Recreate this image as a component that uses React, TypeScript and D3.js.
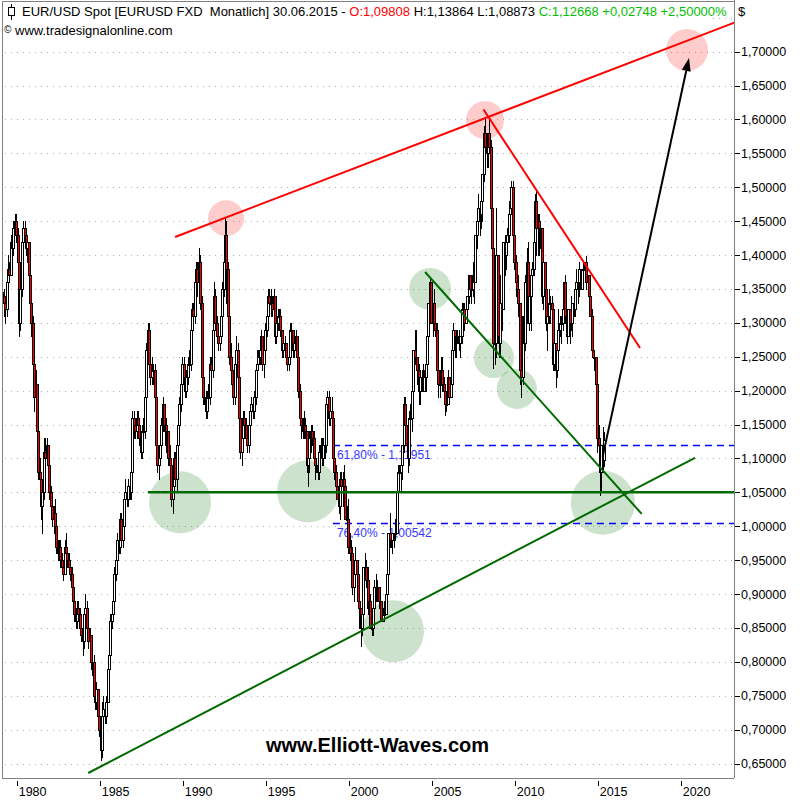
import * as d3 from 'd3'

const W = 800, H = 800
const P = { left: 2, right: 734, top: 1, bottom: 778 }
const FONT = 'Liberation Sans, Arial, sans-serif'

// monthly bars start March 1979; open of the first bar
const START_YEAR = 1979, START_MONTH = 2
const FIRST_OPEN = 1.345

const closes = [
  1.34, 1.33, 1.32, 1.36, 1.38, 1.37, 1.42, 1.41, 1.44, 1.45, // 1979 Mar-Dec
  1.43, 1.39, 1.30, 1.35, 1.42, 1.44, 1.43, 1.41, 1.42, 1.37, 1.33, 1.30, // 1980
  1.24, 1.19, 1.21, 1.14, 1.08, 1.07, 1.03, 1.05, 1.11, 1.10, 1.12, 1.09, // 1981
  1.05, 1.03, 1.01, 1.02, 1.00, 0.97, 0.96, 0.97, 0.95, 0.94, 0.93, 0.97, // 1982
  0.96, 0.95, 0.94, 0.93, 0.91, 0.89, 0.87, 0.86, 0.88, 0.87, 0.85, 0.84, // 1983
  0.83, 0.87, 0.88, 0.85, 0.83, 0.84, 0.80, 0.80, 0.75, 0.74, 0.76, 0.72, // 1984
  0.70, 0.67, 0.72, 0.73, 0.72, 0.74, 0.79, 0.81, 0.86, 0.87, 0.89, 0.93, // 1985
  0.95, 0.98, 0.97, 1.01, 0.98, 1.00, 1.04, 1.05, 1.04, 1.06, 1.05, 1.08, // 1986
  1.16, 1.15, 1.14, 1.16, 1.15, 1.13, 1.11, 1.14, 1.14, 1.19, 1.26, 1.29, // 1987
  1.24, 1.22, 1.23, 1.23, 1.19, 1.12, 1.09, 1.10, 1.12, 1.15, 1.18, 1.15, // 1988
  1.12, 1.14, 1.10, 1.09, 1.04, 1.06, 1.10, 1.07, 1.12, 1.15, 1.18, 1.21, // 1989
  1.24, 1.22, 1.20, 1.22, 1.24, 1.24, 1.29, 1.32, 1.31, 1.36, 1.38, 1.36, // 1990
  1.39, 1.33, 1.22, 1.19, 1.19, 1.17, 1.19, 1.19, 1.24, 1.23, 1.29, 1.34, // 1991
  1.30, 1.28, 1.27, 1.28, 1.31, 1.35, 1.39, 1.43, 1.38, 1.31, 1.25, 1.23, // 1992
  1.21, 1.19, 1.24, 1.26, 1.22, 1.16, 1.11, 1.13, 1.16, 1.15, 1.13, 1.12, // 1993
  1.15, 1.17, 1.18, 1.17, 1.19, 1.23, 1.24, 1.25, 1.26, 1.28, 1.24, 1.26, // 1994
  1.29, 1.31, 1.34, 1.33, 1.33, 1.32, 1.34, 1.28, 1.30, 1.31, 1.31, 1.29, // 1995
  1.26, 1.27, 1.27, 1.25, 1.24, 1.25, 1.29, 1.29, 1.26, 1.27, 1.28, 1.25, // 1996
  1.20, 1.16, 1.15, 1.14, 1.15, 1.14, 1.09, 1.10, 1.13, 1.14, 1.13, 1.10, // 1997
  1.09, 1.09, 1.08, 1.11, 1.12, 1.10, 1.12, 1.12, 1.18, 1.19, 1.16, 1.17, // 1998
  1.16, 1.10, 1.08, 1.06, 1.04, 1.03, 1.07, 1.06, 1.07, 1.06, 1.01, 1.01, // 1999
  0.97, 0.96, 0.96, 0.91, 0.93, 0.95, 0.93, 0.89, 0.88, 0.85, 0.87, 0.94, // 2000
  0.94, 0.92, 0.88, 0.89, 0.85, 0.85, 0.88, 0.91, 0.91, 0.91, 0.89, 0.89, // 2001
  0.86, 0.87, 0.87, 0.90, 0.93, 0.99, 0.98, 0.98, 0.99, 0.99, 0.99, 1.05, // 2002
  1.08, 1.08, 1.09, 1.12, 1.18, 1.15, 1.12, 1.10, 1.16, 1.16, 1.20, 1.26, // 2003
  1.25, 1.25, 1.23, 1.20, 1.22, 1.22, 1.20, 1.22, 1.24, 1.28, 1.33, 1.36, // 2004
  1.30, 1.33, 1.30, 1.29, 1.23, 1.21, 1.21, 1.23, 1.21, 1.20, 1.18, 1.18, // 2005
  1.22, 1.19, 1.21, 1.26, 1.29, 1.28, 1.28, 1.28, 1.27, 1.28, 1.32, 1.32, // 2006
  1.30, 1.32, 1.34, 1.37, 1.35, 1.35, 1.37, 1.36, 1.43, 1.45, 1.47, 1.46, // 2007
  1.48, 1.52, 1.58, 1.56, 1.55, 1.58, 1.56, 1.47, 1.41, 1.27, 1.27, 1.40, // 2008
  1.28, 1.27, 1.33, 1.32, 1.42, 1.40, 1.42, 1.43, 1.46, 1.47, 1.50, 1.43, // 2009
  1.39, 1.36, 1.35, 1.33, 1.23, 1.22, 1.31, 1.27, 1.36, 1.39, 1.30, 1.34, // 2010
  1.37, 1.38, 1.42, 1.48, 1.44, 1.45, 1.44, 1.44, 1.34, 1.39, 1.35, 1.30, // 2011
  1.31, 1.33, 1.33, 1.32, 1.24, 1.27, 1.23, 1.26, 1.29, 1.30, 1.30, 1.32, // 2012
  1.36, 1.31, 1.28, 1.32, 1.30, 1.30, 1.33, 1.32, 1.35, 1.36, 1.36, 1.38, // 2013
  1.35, 1.38, 1.38, 1.39, 1.36, 1.37, 1.34, 1.31, 1.26, 1.25, 1.25, 1.21, // 2014
  1.13, 1.12, 1.08, 1.12, 1.098, 1.1267, // 2015 Jan-Jun
]

const highs = [
  1.36, 1.35, 1.34, 1.37, 1.40, 1.39, 1.43, 1.44, 1.45, 1.46,
  1.46, 1.44, 1.40, 1.36, 1.43, 1.45, 1.45, 1.44, 1.43, 1.42, 1.38, 1.34,
  1.31, 1.25, 1.23, 1.21, 1.15, 1.10, 1.08, 1.06, 1.13, 1.13, 1.13, 1.12,
  1.09, 1.06, 1.04, 1.03, 1.04, 1.01, 0.98, 0.98, 0.98, 0.96, 0.95, 0.98,
  0.99, 0.97, 0.96, 0.95, 0.94, 0.92, 0.90, 0.88, 0.89, 0.89, 0.88, 0.86,
  0.85, 0.88, 0.90, 0.89, 0.86, 0.85, 0.84, 0.81, 0.81, 0.77, 0.77, 0.76,
  0.73, 0.71, 0.74, 0.75, 0.74, 0.75, 0.80, 0.82, 0.87, 0.89, 0.90, 0.94,
  0.96, 0.99, 1.00, 1.02, 1.02, 1.01, 1.05, 1.07, 1.06, 1.07, 1.07, 1.09,
  1.17, 1.17, 1.16, 1.17, 1.17, 1.16, 1.14, 1.15, 1.16, 1.20, 1.27, 1.30,
  1.30, 1.25, 1.25, 1.24, 1.24, 1.20, 1.13, 1.11, 1.13, 1.16, 1.19, 1.18,
  1.16, 1.15, 1.14, 1.12, 1.10, 1.08, 1.11, 1.11, 1.13, 1.16, 1.19, 1.22,
  1.25, 1.25, 1.23, 1.23, 1.25, 1.26, 1.30, 1.33, 1.33, 1.37, 1.39, 1.39,
  1.41, 1.40, 1.34, 1.23, 1.21, 1.20, 1.20, 1.21, 1.25, 1.25, 1.30, 1.36,
  1.35, 1.31, 1.29, 1.29, 1.32, 1.36, 1.40, 1.455, 1.45, 1.39, 1.32, 1.27,
  1.25, 1.23, 1.26, 1.28, 1.27, 1.23, 1.17, 1.14, 1.17, 1.17, 1.16, 1.14,
  1.16, 1.18, 1.19, 1.19, 1.20, 1.24, 1.26, 1.26, 1.28, 1.29, 1.28, 1.27,
  1.30, 1.32, 1.35, 1.35, 1.35, 1.34, 1.35, 1.34, 1.31, 1.32, 1.32, 1.32,
  1.29, 1.28, 1.28, 1.27, 1.26, 1.26, 1.30, 1.30, 1.29, 1.28, 1.29, 1.28,
  1.25, 1.21, 1.17, 1.16, 1.17, 1.16, 1.14, 1.11, 1.14, 1.15, 1.15, 1.14,
  1.11, 1.10, 1.10, 1.12, 1.13, 1.13, 1.13, 1.14, 1.19, 1.20, 1.20, 1.18,
  1.19, 1.16, 1.10, 1.09, 1.07, 1.05, 1.08, 1.08, 1.08, 1.09, 1.07, 1.03,
  1.04, 0.99, 0.98, 0.97, 0.94, 0.97, 0.95, 0.93, 0.90, 0.88, 0.87, 0.94,
  0.96, 0.95, 0.94, 0.91, 0.90, 0.87, 0.88, 0.92, 0.93, 0.92, 0.91, 0.90,
  0.89, 0.88, 0.89, 0.90, 0.94, 0.99, 1.02, 0.99, 0.99, 0.99, 1.01, 1.05,
  1.09, 1.09, 1.11, 1.12, 1.19, 1.19, 1.16, 1.14, 1.17, 1.18, 1.20, 1.26,
  1.29, 1.29, 1.25, 1.24, 1.23, 1.23, 1.24, 1.23, 1.24, 1.28, 1.33, 1.367,
  1.36, 1.33, 1.35, 1.31, 1.30, 1.24, 1.22, 1.25, 1.25, 1.22, 1.21, 1.20,
  1.23, 1.22, 1.23, 1.27, 1.30, 1.29, 1.29, 1.29, 1.29, 1.28, 1.33, 1.33,
  1.33, 1.33, 1.34, 1.37, 1.37, 1.35, 1.39, 1.38, 1.43, 1.45, 1.49, 1.48,
  1.49, 1.52, 1.59, 1.60, 1.58, 1.58, 1.604, 1.57, 1.48, 1.42, 1.30, 1.47,
  1.40, 1.31, 1.37, 1.35, 1.42, 1.43, 1.43, 1.44, 1.48, 1.50, 1.51, 1.51,
  1.45, 1.40, 1.37, 1.37, 1.33, 1.24, 1.31, 1.33, 1.37, 1.41, 1.42, 1.34,
  1.38, 1.39, 1.43, 1.49, 1.494, 1.46, 1.46, 1.45, 1.44, 1.42, 1.39, 1.35,
  1.32, 1.35, 1.34, 1.34, 1.33, 1.27, 1.27, 1.26, 1.32, 1.31, 1.31, 1.33,
  1.36, 1.37, 1.32, 1.32, 1.32, 1.34, 1.33, 1.35, 1.36, 1.38, 1.36, 1.39,
  1.38, 1.38, 1.39, 1.39, 1.399, 1.37, 1.37, 1.34, 1.32, 1.28, 1.26, 1.25,
  1.21, 1.15, 1.13, 1.12, 1.147, 1.1386,
]

const lows = [
  1.32, 1.31, 1.30, 1.31, 1.35, 1.36, 1.37, 1.39, 1.40, 1.43,
  1.42, 1.38, 1.28, 1.29, 1.34, 1.41, 1.42, 1.40, 1.39, 1.36, 1.31, 1.28,
  1.23, 1.17, 1.17, 1.13, 1.07, 1.05, 1.01, 0.99, 1.04, 1.08, 1.09, 1.08,
  1.04, 1.02, 1.00, 0.99, 0.99, 0.96, 0.95, 0.95, 0.94, 0.93, 0.92, 0.93,
  0.95, 0.94, 0.93, 0.92, 0.90, 0.88, 0.86, 0.85, 0.85, 0.86, 0.84, 0.83,
  0.81, 0.82, 0.86, 0.84, 0.82, 0.82, 0.79, 0.78, 0.74, 0.73, 0.73, 0.71,
  0.69, 0.655, 0.66, 0.71, 0.71, 0.71, 0.74, 0.78, 0.79, 0.85, 0.86, 0.88,
  0.92, 0.94, 0.96, 0.96, 0.97, 0.97, 0.99, 1.03, 1.03, 1.03, 1.04, 1.04,
  1.08, 1.13, 1.13, 1.13, 1.14, 1.12, 1.10, 1.10, 1.13, 1.13, 1.18, 1.25,
  1.23, 1.21, 1.21, 1.21, 1.18, 1.11, 1.08, 1.07, 1.09, 1.11, 1.14, 1.14,
  1.11, 1.11, 1.09, 1.08, 1.03, 1.02, 1.05, 1.06, 1.05, 1.11, 1.14, 1.17,
  1.20, 1.21, 1.19, 1.19, 1.21, 1.22, 1.23, 1.28, 1.30, 1.30, 1.35, 1.34,
  1.35, 1.32, 1.21, 1.18, 1.18, 1.16, 1.16, 1.17, 1.18, 1.21, 1.22, 1.28,
  1.29, 1.27, 1.26, 1.26, 1.27, 1.30, 1.34, 1.38, 1.33, 1.30, 1.24, 1.22,
  1.20, 1.18, 1.18, 1.23, 1.21, 1.15, 1.10, 1.09, 1.12, 1.13, 1.12, 1.11,
  1.11, 1.14, 1.16, 1.16, 1.16, 1.18, 1.22, 1.23, 1.24, 1.25, 1.23, 1.22,
  1.25, 1.28, 1.30, 1.32, 1.31, 1.31, 1.31, 1.27, 1.27, 1.29, 1.29, 1.28,
  1.25, 1.25, 1.25, 1.24, 1.23, 1.23, 1.24, 1.27, 1.25, 1.25, 1.26, 1.24,
  1.19, 1.15, 1.13, 1.13, 1.13, 1.13, 1.08, 1.06, 1.08, 1.11, 1.12, 1.09,
  1.07, 1.08, 1.07, 1.07, 1.10, 1.09, 1.09, 1.10, 1.11, 1.16, 1.15, 1.15,
  1.13, 1.09, 1.07, 1.05, 1.04, 1.02, 1.01, 1.04, 1.03, 1.05, 1.01, 1.00,
  0.96, 0.95, 0.95, 0.90, 0.89, 0.92, 0.92, 0.88, 0.85, 0.823, 0.84, 0.86,
  0.92, 0.91, 0.87, 0.87, 0.85, 0.84, 0.84, 0.87, 0.89, 0.89, 0.88, 0.88,
  0.86, 0.86, 0.86, 0.87, 0.90, 0.93, 0.97, 0.97, 0.96, 0.97, 0.98, 0.99,
  1.04, 1.06, 1.05, 1.07, 1.11, 1.14, 1.12, 1.08, 1.09, 1.14, 1.14, 1.19,
  1.24, 1.24, 1.21, 1.18, 1.18, 1.20, 1.20, 1.20, 1.20, 1.22, 1.27, 1.32,
  1.30, 1.28, 1.29, 1.28, 1.23, 1.19, 1.19, 1.21, 1.20, 1.19, 1.164, 1.17,
  1.18, 1.18, 1.19, 1.20, 1.26, 1.25, 1.25, 1.27, 1.26, 1.25, 1.27, 1.31,
  1.29, 1.30, 1.30, 1.33, 1.34, 1.33, 1.34, 1.33, 1.36, 1.41, 1.44, 1.43,
  1.44, 1.45, 1.51, 1.55, 1.53, 1.53, 1.55, 1.46, 1.39, 1.233, 1.24, 1.25,
  1.27, 1.25, 1.25, 1.29, 1.32, 1.37, 1.38, 1.40, 1.42, 1.45, 1.46, 1.42,
  1.38, 1.34, 1.33, 1.31, 1.21, 1.19, 1.21, 1.26, 1.26, 1.35, 1.30, 1.29,
  1.29, 1.34, 1.37, 1.41, 1.40, 1.40, 1.40, 1.41, 1.33, 1.32, 1.31, 1.29,
  1.26, 1.30, 1.30, 1.30, 1.23, 1.23, 1.205, 1.22, 1.25, 1.28, 1.27, 1.29,
  1.31, 1.30, 1.27, 1.28, 1.27, 1.29, 1.28, 1.31, 1.31, 1.34, 1.33, 1.34,
  1.35, 1.35, 1.37, 1.37, 1.35, 1.35, 1.34, 1.31, 1.26, 1.25, 1.23, 1.21,
  1.11, 1.12, 1.046, 1.05, 1.08, 1.0887,
]

const yTicks = [0.65, 0.70, 0.75, 0.80, 0.85, 0.90, 0.95, 1.00, 1.05, 1.10, 1.15, 1.20,
  1.25, 1.30, 1.35, 1.40, 1.45, 1.50, 1.55, 1.60, 1.65, 1.70]
const gridLevels = [...yTicks, 1.75]
const yearTicks = [1980, 1985, 1990, 1995, 2000, 2005, 2010, 2015, 2020]

// drawn objects in [decimal year, price]
const redUpper = [[1989.54, 1.4267], [2023.25, 1.743]]
const redDown = [[2008.12, 1.6148], [2017.55, 1.263]]
const greenUp = [[1984.31, 0.636], [2020.86, 1.101]]
const greenDown = [[2004.6, 1.375], [2017.65, 1.0182]]
const greenFlat = { from: 1987.9, value: 1.05 }
const arrowPts = [[2015.3, 1.1027], [2020.5, 1.6907]]

const fibStart = 1999.05
const fibLevels = [
  { label: '61,80% - 1,11951', value: 1.11951 },
  { label: '76,40% - 1,00542', value: 1.00542 },
]

const pinkCircles = [[1992.61, 1.4545, 18], [2008.21, 1.599, 19], [2020.38, 1.7025, 21]]
const greenCircles = [
  [1989.84, 1.0353, 31], [1997.55, 1.0515, 31], [2004.9, 1.35, 21], [2008.75, 1.2483, 20],
  [2010.13, 1.2026, 20], [2002.67, 0.845, 31], [2015.31, 1.0346, 32],
]

const header = [
  { text: 'EUR/USD Spot [EURUSD FXD\u00a0 Monatlich] 30.06.2015 - ', color: '#000' },
  { text: 'O:1,09808 ', color: '#ff0000' },
  { text: 'H:1,13864 L:1,08873 ', color: '#000' },
  { text: 'C:1,12668 +0,02748 +2,50000%', color: '#00c000' },
]

const x = d3.scaleLinear().domain([1980, 2020]).range([16.7, 680.7])
const y = d3.scaleLinear().domain([0.65, 1.70]).range([763.5, 51.7])
const fmt = (v: number) => d3.format('.5f')(v).replace('.', ',')
const line = d3.line<number[]>().x(d => x(d[0])).y(d => y(d[1]))

export default function App() {
  const bars = closes.map((c, i) => {
    const o = i === 0 ? FIRST_OPEN : closes[i - 1]
    const t = START_YEAR + (START_MONTH + i) / 12
    return { t, o, c, h: highs[i], l: lows[i] }
  })

  const a0 = [x(arrowPts[0][0]), y(arrowPts[0][1])]
  const a1 = [x(arrowPts[1][0]), y(arrowPts[1][1])]
  const ang = Math.atan2(a1[1] - a0[1], a1[0] - a0[0])
  const hl = 13, hw = 4.5
  const base = [a1[0] - hl * Math.cos(ang), a1[1] - hl * Math.sin(ang)]
  const head = [
    a1,
    [base[0] + hw * Math.sin(ang), base[1] - hw * Math.cos(ang)],
    [base[0] - hw * Math.sin(ang), base[1] + hw * Math.cos(ang)],
  ]

  return (
    <svg width={W} height={H} style={{ position: 'absolute', left: 0, top: 0, background: '#fff' }}
      fontFamily={FONT}>
      <defs>
        <clipPath id="plot">
          <rect x={P.left + 1} y={P.top + 1} width={P.right - P.left - 1} height={P.bottom - P.top - 1} />
        </clipPath>
      </defs>
      <rect width={W} height={H} fill="#fff" />

      <g clipPath="url(#plot)">
        {gridLevels.map(v => (
          <line key={v} x1={P.left + 3} x2={P.right} y1={Math.round(y(v)) + 0.5} y2={Math.round(y(v)) + 0.5}
            stroke="#a6b8a6" strokeDasharray="1 5" />
        ))}

        {pinkCircles.map(([t, v, r], i) => (
          <circle key={'p' + i} cx={x(t)} cy={y(v)} r={r} fill="rgba(255,0,0,0.2)" />
        ))}
        {greenCircles.map(([t, v, r], i) => (
          <circle key={'g' + i} cx={x(t)} cy={y(v)} r={r} fill="rgba(0,110,0,0.2)" />
        ))}

        {fibLevels.map(f => (
          <g key={f.label}>
            <line x1={x(fibStart)} x2={P.right} y1={Math.round(y(f.value)) + 0.5} y2={Math.round(y(f.value)) + 0.5}
              stroke="#0000ff" strokeWidth={1.3} strokeDasharray="7 5" />
            <text x={x(fibStart) + 4} y={y(f.value) + 14} fontSize={12} fill="#3636ff">{f.label}</text>
          </g>
        ))}

        <g shapeRendering="crispEdges">
          {bars.map((b, i) => {
            const cx = Math.floor(x(b.t))
            const top = Math.round(y(Math.max(b.o, b.c)))
            const bot = Math.round(y(Math.min(b.o, b.c)))
            const hi = Math.round(y(Math.max(b.h, b.o, b.c)))
            const lo = Math.round(y(Math.min(b.l, b.o, b.c)))
            return (
              <g key={i}>
                <line x1={cx + 0.5} x2={cx + 0.5} y1={hi} y2={lo + 1} stroke="#000" />
                <rect x={cx - 0.5} y={top + 0.5} width={2} height={Math.max(1, bot - top)}
                  fill={b.c >= b.o ? '#fff' : '#ff0000'} stroke="#000" />
              </g>
            )
          })}
        </g>

        <line x1={x(greenFlat.from)} x2={P.right} y1={y(greenFlat.value)} y2={y(greenFlat.value)}
          stroke="#006a00" strokeWidth={2.5} />
        <path d={line(greenUp) || ''} stroke="#006a00" strokeWidth={2} fill="none" />
        <path d={line(greenDown) || ''} stroke="#006a00" strokeWidth={2} fill="none" />
        <path d={line(redUpper) || ''} stroke="#ff0000" strokeWidth={2} fill="none" />
        <path d={line(redDown) || ''} stroke="#ff0000" strokeWidth={2} fill="none" />

        <line x1={a0[0]} y1={a0[1]} x2={base[0]} y2={base[1]} stroke="#000" strokeWidth={2} />
        <polygon points={head.map(p => p.join(',')).join(' ')} fill="#000" />

        <text x={377.5} y={752} textAnchor="middle" fontSize={20} fontWeight="bold" fill="#000">
          www.Elliott-Waves.com
        </text>
      </g>

      {/* header */}
      <rect x={3} y={2} width={706} height={19} fill="#fff" />
      <g stroke="#000" fill="none" shapeRendering="crispEdges">
        <line x1={11.5} x2={11.5} y1={4} y2={20} />
        <rect x={8.5} y={7.5} width={6} height={8} fill="#fff" />
      </g>
      <text x={22} y={16} fontSize={13} xmlSpace="preserve">
        {header.map((h, i) => <tspan key={i} fill={h.color}>{h.text}</tspan>)}
      </text>
      <text x={4} y={35} fontSize={13}>
        <tspan fontSize={10} dy={-2}>©</tspan><tspan dy={2}> www.tradesignalonline.com</tspan>
      </text>

      {/* frame */}
      <g stroke="#808080" fill="none" shapeRendering="crispEdges">
        <line x1={P.left} x2={P.right} y1={P.top} y2={P.top} />
        <line x1={P.left} x2={P.left} y1={P.top} y2={P.bottom} />
        <line x1={P.left} x2={P.right} y1={P.bottom} y2={P.bottom} />
        <line x1={P.right} x2={P.right} y1={0} y2={P.bottom} />
      </g>

      {/* price axis */}
      <text x={738} y={16} fontSize={13}>$</text>
      {yTicks.map(v => (
        <g key={v}>
          <line x1={P.right + 1} x2={P.right + 6} y1={Math.round(y(v)) + 0.5} y2={Math.round(y(v)) + 0.5}
            stroke="#000" />
          <text x={741} y={y(v) + 4.5} fontSize={12.5}>{fmt(v)}</text>
        </g>
      ))}

      {/* time axis */}
      {yearTicks.map(t => (
        <g key={t}>
          <line x1={Math.round(x(t)) + 0.5} x2={Math.round(x(t)) + 0.5} y1={781} y2={786} stroke="#000" />
          <text x={x(t) + 2} y={796} fontSize={12.5}>{t}</text>
        </g>
      ))}
    </svg>
  )
}
